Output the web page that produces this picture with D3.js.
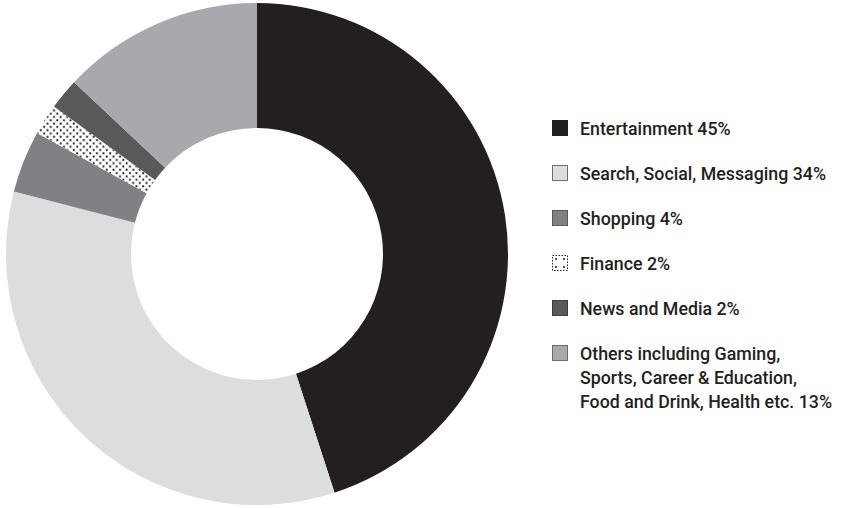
<!DOCTYPE html>
<html><head><meta charset="utf-8">
<script src="https://cdn.jsdelivr.net/npm/d3@7"></script>
<style>body{margin:0;background:#fff}svg{display:block}</style>
</head><body>
<script>
const categories = ["Entertainment", "Search, Social, Messaging", "Shopping", "Finance", "News and Media", "Others including Gaming, Sports, Career & Education, Food and Drink, Health etc."];
const values = [45, 34, 4, 2, 2, 13];
const legendLines = [
  ["Entertainment 45%"],
  ["Search, Social, Messaging 34%"],
  ["Shopping 4%"],
  ["Finance 2%"],
  ["News and Media 2%"],
  ["Others including Gaming,", "Sports, Career & Education,", "Food and Drink, Health etc. 13%"]
];
const colors = ["#231f20", "#dcdddf", "#808184", "url(#dots)", "#58595b", "#a7a9ac"];
const legendFills = ["#231f20", "#dcdddf", "#808184", "url(#dotsLegend)", "#58595b", "#a7a9ac"];
const strokeColors = ["#231f20", "#6d6e71", "#58595b", "#231f20", "#3a3a3c", "#6d6e71"];

const W = 843, H = 508;
const svg = d3.select("body").append("svg").attr("width", W).attr("height", H);
const defs = svg.append("defs");
const pat = defs.append("pattern").attr("id", "dots").attr("patternUnits", "userSpaceOnUse")
  .attr("width", 6.6).attr("height", 6.6);
pat.append("rect").attr("width", 6.6).attr("height", 6.6).attr("fill", "#fff");
pat.append("circle").attr("cx", 1.65).attr("cy", 1.65).attr("r", 1.1).attr("fill", "#231f20");
pat.append("circle").attr("cx", 4.95).attr("cy", 4.95).attr("r", 1.1).attr("fill", "#231f20");

const pat2 = defs.append("pattern").attr("id", "dotsLegend").attr("patternUnits", "userSpaceOnUse")
  .attr("x", 552).attr("y", 0).attr("width", 8).attr("height", 8);
pat2.append("rect").attr("width", 8).attr("height", 8).attr("fill", "#fff");
pat2.append("circle").attr("cx", 4).attr("cy", 3).attr("r", 1).attr("fill", "#231f20");

const cx = 257, cy = 254, R = 251, r = 126;
const pie = d3.pie().sort(null).value(d => d)(values);
const arc = d3.arc().innerRadius(r).outerRadius(R);
const g = svg.append("g").attr("transform", `translate(${cx},${cy})`);
g.selectAll("path").data(pie).join("path")
  .attr("d", arc).attr("fill", (d, i) => colors[i]);

const lg = svg.append("g").attr("transform", "translate(552,0)");
const y0 = 128, step = 45, lh = 24;
legendLines.forEach((lines, i) => {
  const y = y0 + i * step;
  lg.append("rect").attr("x", 0.5).attr("y", y - 7.5).attr("width", 15).attr("height", 15)
    .attr("fill", legendFills[i]).attr("stroke", strokeColors[i]).attr("stroke-width", 1)
    .attr("stroke-dasharray", i === 3 ? "1.5,1.5" : null);
  const t = lg.append("text").attr("x", 28).attr("y", y)
    .attr("font-family", "Roboto, sans-serif")
    .attr("font-size", 17.8).attr("font-weight", 500).attr("fill", "#231f20")
    .attr("dominant-baseline", "central");
  lines.forEach((l, j) => {
    t.append("tspan").attr("x", 28).attr("y", y + j * lh).text(l);
  });
});
</script>
</body></html>
